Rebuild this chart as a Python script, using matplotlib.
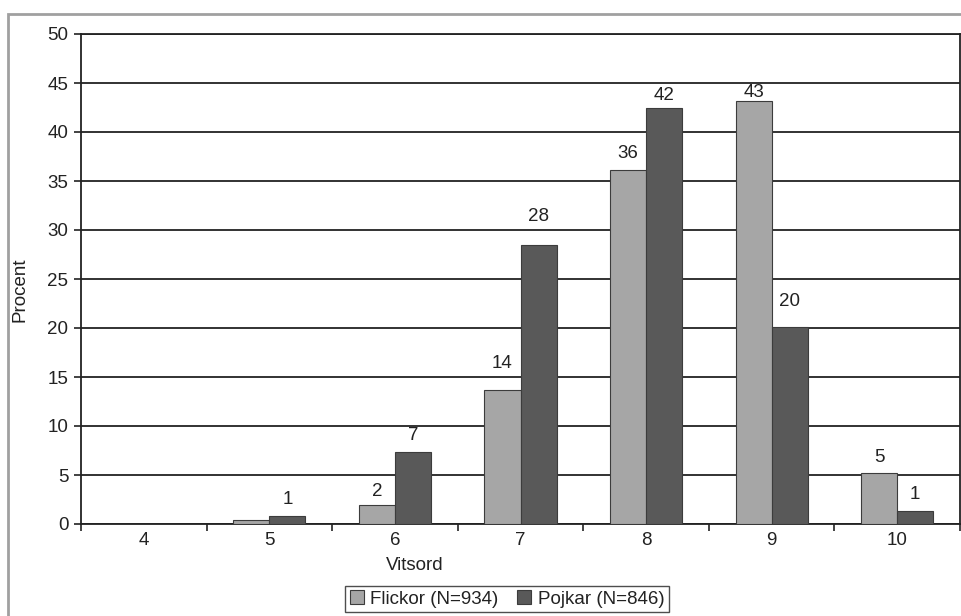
import matplotlib.pyplot as plt
from matplotlib.patches import Rectangle
import numpy as np

plt.rcParams['font.family'] = ['Liberation Sans', 'DejaVu Sans']

# data
vitsord = ['4', '5', '6', '7', '8', '9', '10']
flickor = [0.0, 0.4, 1.9, 13.7, 36.1, 43.2, 5.2]
pojkar = [0.0, 0.8, 7.3, 28.5, 42.4, 20.1, 1.3]
flickor_lbl = ['', '', '2', '14', '36', '43', '5']
pojkar_lbl = ['', '1', '7', '28', '42', '20', '1']

# label gap above bar top (points)
flickor_gap = [0, 0, 4, 13, 6, 0, 5]
pojkar_gap = [0, 6, 6, 14, 3, 12, 6]

fs = 13.5
txt = '#222222'

fig = plt.figure(figsize=(9.62, 6.16), dpi=100)
ax = fig.add_axes([81 / 962, 1 - 524 / 616, 879 / 962, 490 / 616])

x = np.arange(len(vitsord))
w = 0.287
edge = '#3c3c3c'
ax.bar(x - w / 2, flickor, w, color='#a6a6a6', edgecolor=edge, linewidth=0.8,
       label='Flickor (N=934)', zorder=3)
ax.bar(x + w / 2, pojkar, w, color='#595959', edgecolor=edge, linewidth=0.8,
       label='Pojkar (N=846)', zorder=3)

for i in range(len(x)):
    if flickor_lbl[i]:
        ax.annotate(flickor_lbl[i], (x[i] - w / 2, flickor[i]), xytext=(0, flickor_gap[i]),
                    textcoords='offset points', ha='center', va='bottom', fontsize=fs, color=txt)
    if pojkar_lbl[i]:
        ax.annotate(pojkar_lbl[i], (x[i] + w / 2, pojkar[i]), xytext=(0, pojkar_gap[i]),
                    textcoords='offset points', ha='center', va='bottom', fontsize=fs, color=txt)

ax.set_xlim(-0.5, len(x) - 0.5)
ax.set_ylim(0, 50)
ax.set_yticks(range(0, 51, 5))
ax.yaxis.grid(True, color=txt, linewidth=1.3, zorder=0)
ax.set_axisbelow(True)

# boundary ticks without labels, labels at category centres
ax.set_xticks(np.arange(-0.5, len(x) + 0.5, 1))
ax.set_xticklabels([])
ax.set_xticks(x, minor=True)
ax.set_xticklabels(vitsord, minor=True)
ax.tick_params(axis='x', which='major', direction='out', length=5, width=1.2, color=txt)
ax.tick_params(axis='x', which='minor', length=0, pad=6, labelsize=fs, labelcolor=txt)
ax.tick_params(axis='y', direction='out', length=5, width=1.2, color=txt,
               pad=4, labelsize=fs, labelcolor=txt)

for s in ax.spines.values():
    s.set_color(txt)
    s.set_linewidth(1.3)

fig.text(415 / 962, 1 - 566 / 616, 'Vitsord', ha='center', va='center', fontsize=fs, color=txt)
fig.text(20 / 962, 1 - 290 / 616, 'Procent', ha='center', va='center', rotation=90,
         fontsize=fs, color=txt)

leg = fig.legend(loc='center', bbox_to_anchor=(507 / 962, 1 - 599 / 616), ncol=2,
                 fontsize=fs, frameon=True, fancybox=False, handlelength=0.75, handleheight=0.75,
                 handletextpad=0.35, columnspacing=1.0, borderpad=0.25, borderaxespad=0)
leg.get_frame().set_edgecolor(txt)
leg.get_frame().set_linewidth(1.0)
for t in leg.get_texts():
    t.set_color(txt)

# grey outer frame, cut off at right and bottom like the reference
fig.patches.append(Rectangle((8 / 962, -0.1), 1.2, 1.1 - 14 / 616, transform=fig.transFigure,
                             fill=False, edgecolor='#a0a0a0', linewidth=2))

fig.savefig('out.png', dpi=100)
